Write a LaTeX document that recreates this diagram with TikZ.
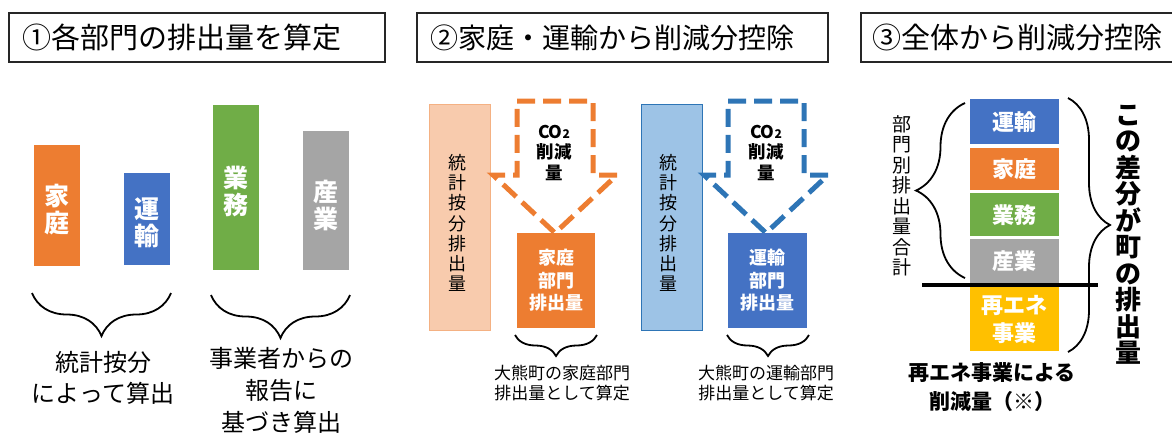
\documentclass[tikz,border=0pt]{standalone}
\usepackage{fontspec}
\setmainfont{Noto Sans CJK JP}
\usetikzlibrary{decorations.pathreplacing}
\definecolor{secOrange}{HTML}{ED7D31}
\definecolor{secBlue}{HTML}{4472C4}
\definecolor{secGreen}{HTML}{70AD47}
\definecolor{secGray}{HTML}{A5A5A5}
\definecolor{secYellow}{HTML}{FFC000}
\definecolor{paleOrange}{HTML}{F8CBAD}
\definecolor{paleOrangeLine}{HTML}{F4B183}
\definecolor{paleBlue}{HTML}{9DC3E6}
\definecolor{deepBlue}{HTML}{2E75B6}
\newcommand\setfs[2]{\fontsize{#1}{#2}\selectfont}

\tikzset{
  titlebox/.style={draw=black!85, line width=1.3pt},
  titletext/.style={anchor=west, inner sep=0pt, font=\setfs{#1}{30}},
  bar/.style={anchor=north west, inner sep=0pt, outer sep=0pt, minimum width=46pt},
  bartext/.style={text=white, align=center, font=\bfseries\setfs{25}{27}},
  curly/.style={decorate, decoration={brace, amplitude=#1}, line width=1.8pt},
  pale/.style={anchor=north west, line width=1.3pt, minimum width=61pt, minimum height=226pt},
  vtext/.style={align=center, inner sep=0pt, font=\setfs{18}{20.3}},
  cotwoarrow/.style={draw=#1, line width=5pt, dash pattern=on 18pt off 8pt},
  cotwotext/.style={align=center, inner sep=0pt, font=\bfseries\setfs{17.5}{20.5}},
  sectorbox/.style={anchor=north west, inner sep=0pt, minimum height=95pt},
  boxtext/.style={text=white, align=center, inner sep=0pt, font=\bfseries\setfs{18}{22.5}},
  note/.style={align=center, inner sep=0pt, font=\setfs{17}{20}},
  stack/.style={anchor=north west, inner sep=0pt, minimum width=89pt},
  stacktext/.style={text=white, align=center, inner sep=0pt, font=\bfseries\setfs{22}{28}}
}

\begin{document}
\begin{tikzpicture}[x=1pt, y=-1pt]
  \useasboundingbox (0,0) rectangle (1172,432);

  \draw[titlebox] (9,13) rectangle (385,62);
  \node[titletext=29] (title1) at (22,37.5) {①各部門の排出量を算定};
  \draw[titlebox] (417,13) rectangle (828,62);
  \node[titletext=28] (title2) at (430,37.5) {②家庭・運輸から削減分控除};
  \draw[titlebox] (861,13) rectangle (1185,62);
  \node[titletext=29] (title3) at (872,37.5) {③全体から削減分控除};

  % (1) sector bars
  \node[bar, fill=secOrange, minimum height=121pt] (kateiBar) at (34,145) {};
  \node[bartext] at ([yshift=-4pt]kateiBar.center) {家\\庭};
  \node[bar, fill=secBlue, minimum height=92pt] (unyuBar) at (124,173) {};
  \node[bartext] at ([yshift=-4pt]unyuBar.center) {運\\輸};
  \node[bar, fill=secGreen, minimum height=165pt] (gyomuBar) at (213,105) {};
  \node[bartext] at ([yshift=-4pt]gyomuBar.center) {業\\務};
  \node[bar, fill=secGray, minimum height=139pt] (sangyoBar) at (303,131) {};
  \node[bartext] at ([yshift=-5pt]sangyoBar.center) {産\\業};
  \draw[curly=43] (171,293) -- (32,293);
  \draw[curly=43] (350,295) -- (211,295);
  \node[align=center, font=\setfs{24}{31}] (statNote) at (103,377.5) {統計按分\\によって算出};
  \node[align=center, font=\setfs{24}{32}] (reportNote) at (281,390) {事業者からの\\報告に\\基づき算出};

  % (2) household / transport
  \node[pale, fill=paleOrange, draw=paleOrangeLine] (kateiStat) at (429,104) {};
  \node[vtext] at (457,223) {統\\計\\按\\分\\排\\出\\量};
  \draw[cotwoarrow=secOrange] (517,101) -- (593,101) -- (593,175) -- (617,175) -- (555,233)
    -- (493,175) -- (517,175) -- cycle;
  \node[cotwotext] (kateiCut) at (554,152.5) {CO{\setfs{12}{12}2}\\削減\\量};
  \node[sectorbox, fill=secOrange, minimum width=78pt] (kateiNet) at (517,233) {};
  \node[boxtext] at (556,280.5) {家庭\\部門\\排出量};
  \draw[curly=21] (597,335) -- (515,335);
  \node[note] (kateiNote) at (562,383) {大熊町の家庭部門\\排出量として算定};

  \node[pale, fill=paleBlue, draw=deepBlue] (unyuStat) at (641,104) {};
  \node[vtext] at (668,223) {統\\計\\按\\分\\排\\出\\量};
  \draw[cotwoarrow=deepBlue] (728,101) -- (804,101) -- (804,175) -- (828,175) -- (766,233)
    -- (704,175) -- (728,175) -- cycle;
  \node[cotwotext] (unyuCut) at (766,152.5) {CO{\setfs{12}{12}2}\\削減\\量};
  \node[sectorbox, fill=secBlue, minimum width=79pt] (unyuNet) at (728,233) {};
  \node[boxtext] at (767.5,280.5) {運輸\\部門\\排出量};
  \draw[curly=21] (809,335) -- (727,335);
  \node[note] (unyuNote) at (766,383) {大熊町の運輸部門\\排出量として算定};

  % (3) whole town
  \node[stack, fill=secBlue, minimum height=45pt] (unyuStack) at (970,99) {};
  \node[stacktext] at (unyuStack.center) {運輸};
  \node[stack, fill=secOrange, minimum height=42pt] (kateiStack) at (970,148) {};
  \node[stacktext] at (kateiStack.center) {家庭};
  \node[stack, fill=secGreen, minimum height=43pt] (gyomuStack) at (970,193) {};
  \node[stacktext] at (gyomuStack.center) {業務};
  \node[stack, fill=secGray, minimum height=44pt] (sangyoStack) at (970,239) {};
  \node[stacktext] at (sangyoStack.center) {産業};
  \node[stack, fill=secYellow, minimum height=64pt] (reneStack) at (970,287) {};
  \node[stacktext] at (reneStack.center) {再エネ\\事業};
  \draw[line width=4.5pt] (922,285) -- (1098,285);
  \draw[curly=49] (965,278) -- (965,103);
  \node[align=center, inner sep=0pt, font=\setfs{19}{20.5}] (sumLabel) at (902,196)
    {部\\門\\別\\排\\出\\量\\合\\計};
  \draw[curly=42] (1068,98) -- (1068,352);
  \node[align=center, inner sep=0pt, font=\bfseries\setfs{26}{26.5}] (townLabel) at (1128,235)
    {こ\\の\\差\\分\\が\\町\\の\\排\\出\\量};
  \node[align=center, inner sep=0pt, font=\bfseries\setfs{21}{29}] (reneNote) at (992,387.5)
    {再エネ事業による\\削減量（※）};
\end{tikzpicture}
\end{document}
